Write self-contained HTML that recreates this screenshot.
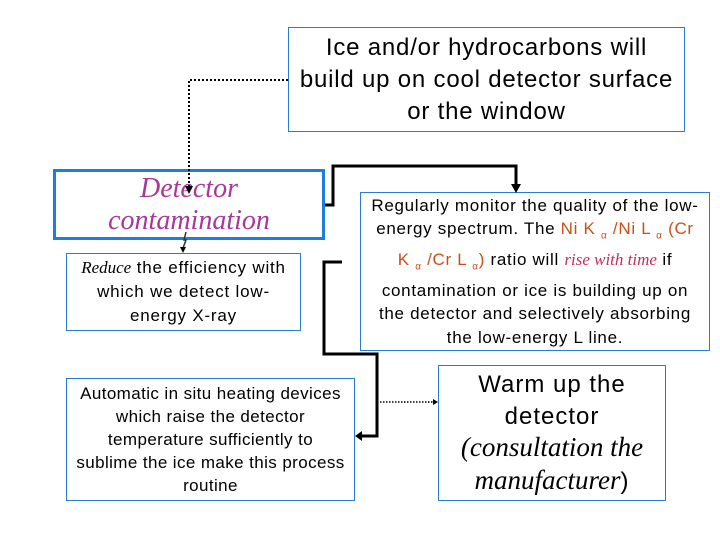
<!DOCTYPE html>
<html><head><meta charset="utf-8"><style>
body{margin:0;width:720px;height:540px;background:#fff;position:relative;overflow:hidden;font-family:"Liberation Sans",sans-serif;color:#000}
.b{position:absolute;box-sizing:border-box;border:1px solid #2a7bd4;background:#fff;text-align:center;display:flex;flex-direction:column;justify-content:center;align-items:center;white-space:nowrap}
.s{font-family:"Liberation Serif",serif;font-style:italic;letter-spacing:0}
.o{color:#c8501a}
sub{font-size:10px}
svg{position:absolute;left:0;top:0}
</style></head><body>
<div class="b" style="left:288px;top:27px;width:397px;height:105px;font-size:24px;letter-spacing:0.8px;line-height:32px">Ice and/or hydrocarbons will<br>build up on cool detector surface<br>or the window</div>
<div class="b" style="left:53px;top:169px;width:272px;height:71px;border:3px solid #1f7ce0;font-size:28px;line-height:32px;color:#a8379a"><span class="s">Detector<br>contamination</span></div>
<div class="b" style="left:66px;top:253px;width:235px;height:78px;font-size:17px;letter-spacing:0.8px;line-height:24px"><span><span class="s">Reduce</span> the efficiency with<br>which we detect low-<br>energy X-ray</span></div>
<div class="b" style="left:360px;top:192px;width:350px;height:159px;font-size:17px;letter-spacing:0.7px;line-height:23.5px"><span>Regularly monitor the quality of the low-<br>energy spectrum. The <span class="o">Ni K <sub>α</sub> /Ni L <sub>α</sub> (Cr<br>K <sub>α</sub> /Cr L <sub>α</sub>)</span> ratio will <span class="s" style="color:#c0305a">rise with time</span> if<br>contamination or ice is building up on<br>the detector and selectively absorbing<br>the low-energy L line.</span></div>
<div class="b" style="left:66px;top:378px;width:289px;height:123px;font-size:17px;letter-spacing:0.4px;line-height:23px">Automatic in situ heating devices<br>which raise the detector<br>temperature sufficiently to<br>sublime the ice make this process<br>routine</div>
<div class="b" style="left:438px;top:365px;width:228px;height:136px;font-size:24px;letter-spacing:1px;line-height:31.5px"><span>Warm up the<br>detector<br><span class="s" style="font-size:27px">(consultation the<br>manufacturer</span>)</span></div>
<svg width="720" height="540">
<polyline points="288,80 189,80 189,186" fill="none" stroke="#000" stroke-width="2" stroke-dasharray="2,2"/>
<polygon points="185,186 193,186 189,194" fill="#000"/>
<polyline points="325,205 333,205 333,166 516,166 516,186" fill="none" stroke="#000" stroke-width="3"/>
<polygon points="511,184 521,184 516,193" fill="#000"/>
<polyline points="186,232 184,240 186,240 183,248" fill="none" stroke="#333" stroke-width="1.5"/>
<polygon points="180,247 186,247 183,253" fill="#000"/>
<polyline points="342,262 324,262 324,354 377,354 377,436 360,436" fill="none" stroke="#000" stroke-width="3"/>
<polygon points="362,431 362,441 355,436" fill="#000"/>
<line x1="377" y1="402" x2="434" y2="402" stroke="#000" stroke-width="1.5" stroke-dasharray="1.5,1.5"/>
<polygon points="433,399 433,405 438,402" fill="#000"/>
</svg>
</body></html>
